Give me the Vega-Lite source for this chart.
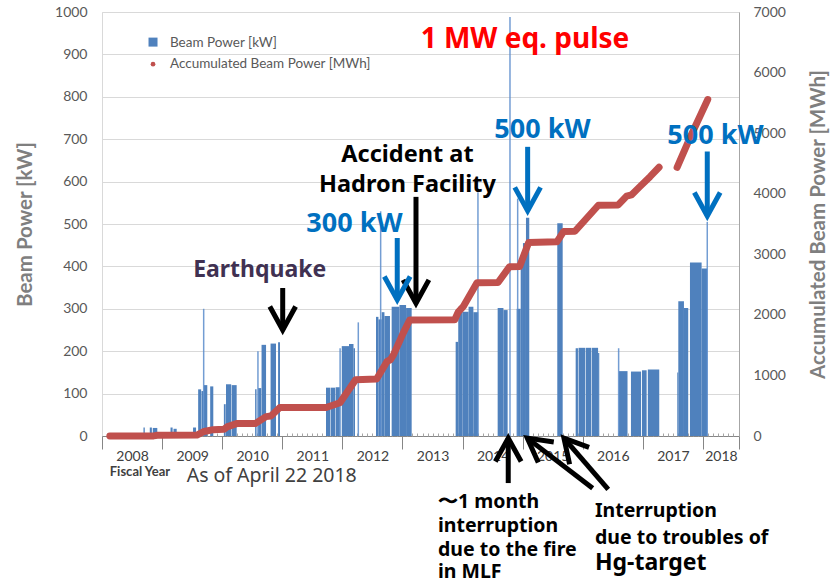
{
  "$schema": "https://vega.github.io/schema/vega-lite/v6.json",
  "width": 637,
  "height": 424,
  "autosize": {"type": "none"},
  "padding": {"left": 102, "top": 12, "right": 92, "bottom": 148},
  "background": "white",
  "config": {"view": {"stroke": "#d9d9d9"}, "font": "Lato"},
  "datasets": {
    "bars": [
      {"start":2008.690,"end":2008.712,"kW":20},
      {"start":2008.795,"end":2008.830,"kW":20},
      {"start":2008.845,"end":2008.920,"kW":19},
      {"start":2009.140,"end":2009.175,"kW":20},
      {"start":2009.190,"end":2009.243,"kW":17},
      {"start":2009.515,"end":2009.565,"kW":20},
      {"start":2009.600,"end":2009.650,"kW":110},
      {"start":2009.655,"end":2009.688,"kW":106},
      {"start":2009.697,"end":2009.752,"kW":120},
      {"start":2009.800,"end":2009.852,"kW":117},
      {"start":2010.028,"end":2010.058,"kW":75},
      {"start":2010.063,"end":2010.150,"kW":122},
      {"start":2010.158,"end":2010.241,"kW":120},
      {"start":2010.548,"end":2010.572,"kW":110},
      {"start":2010.598,"end":2010.650,"kW":113},
      {"start":2010.655,"end":2010.730,"kW":215},
      {"start":2010.805,"end":2010.895,"kW":218},
      {"start":2010.930,"end":2010.962,"kW":221},
      {"start":2011.727,"end":2011.800,"kW":114},
      {"start":2011.808,"end":2011.880,"kW":114},
      {"start":2011.888,"end":2011.958,"kW":115},
      {"start":2011.990,"end":2012.110,"kW":212},
      {"start":2012.110,"end":2012.185,"kW":217},
      {"start":2012.185,"end":2012.210,"kW":207},
      {"start":2012.559,"end":2012.600,"kW":281},
      {"start":2012.600,"end":2012.654,"kW":275},
      {"start":2012.654,"end":2012.700,"kW":292},
      {"start":2012.700,"end":2012.792,"kW":283},
      {"start":2012.820,"end":2012.950,"kW":305},
      {"start":2012.950,"end":2013.060,"kW":309},
      {"start":2013.060,"end":2013.153,"kW":302},
      {"start":2013.885,"end":2013.928,"kW":222},
      {"start":2013.928,"end":2014.000,"kW":305},
      {"start":2014.000,"end":2014.100,"kW":293},
      {"start":2014.100,"end":2014.180,"kW":305},
      {"start":2014.180,"end":2014.261,"kW":292},
      {"start":2014.584,"end":2014.680,"kW":302},
      {"start":2014.680,"end":2014.750,"kW":297},
      {"start":2014.900,"end":2014.967,"kW":300},
      {"start":2014.967,"end":2015.005,"kW":420},
      {"start":2015.005,"end":2015.055,"kW":455},
      {"start":2015.055,"end":2015.110,"kW":515},
      {"start":2015.576,"end":2015.666,"kW":502},
      {"start":2015.882,"end":2015.920,"kW":207},
      {"start":2015.930,"end":2016.043,"kW":208},
      {"start":2016.053,"end":2016.143,"kW":208},
      {"start":2016.153,"end":2016.255,"kW":208},
      {"start":2016.255,"end":2016.275,"kW":196},
      {"start":2016.602,"end":2016.745,"kW":153},
      {"start":2016.802,"end":2016.970,"kW":152},
      {"start":2016.985,"end":2017.063,"kW":155},
      {"start":2017.083,"end":2017.273,"kW":157},
      {"start":2017.573,"end":2017.590,"kW":150},
      {"start":2017.590,"end":2017.684,"kW":318},
      {"start":2017.684,"end":2017.755,"kW":302},
      {"start":2017.784,"end":2017.978,"kW":409},
      {"start":2017.978,"end":2018.070,"kW":395}
    ],
    "spikes": [
      {"t":2009.692,"kW":300},
      {"t":2010.595,"kW":200},
      {"t":2011.962,"kW":207},
      {"t":2012.265,"kW":268},
      {"t":2012.637,"kW":530},
      {"t":2014.256,"kW":575},
      {"t":2014.789,"kW":988},
      {"t":2014.917,"kW":560},
      {"t":2016.597,"kW":207},
      {"t":2018.072,"kW":505}
    ],
    "acc": [
      {"t":2008.13,"MWh":0,"seg":1},
      {"t":2008.86,"MWh":2,"seg":1},
      {"t":2008.92,"MWh":12,"seg":1},
      {"t":2009.58,"MWh":16,"seg":1},
      {"t":2009.70,"MWh":75,"seg":1},
      {"t":2009.85,"MWh":105,"seg":1},
      {"t":2010.03,"MWh":110,"seg":1},
      {"t":2010.08,"MWh":150,"seg":1},
      {"t":2010.24,"MWh":205,"seg":1},
      {"t":2010.55,"MWh":205,"seg":1},
      {"t":2010.73,"MWh":320,"seg":1},
      {"t":2010.81,"MWh":330,"seg":1},
      {"t":2010.96,"MWh":470,"seg":1},
      {"t":2011.73,"MWh":470,"seg":1},
      {"t":2011.96,"MWh":550,"seg":1},
      {"t":2012.22,"MWh":930,"seg":1},
      {"t":2012.57,"MWh":940,"seg":1},
      {"t":2012.74,"MWh":1227,"seg":1},
      {"t":2012.80,"MWh":1260,"seg":1},
      {"t":2012.85,"MWh":1340,"seg":1},
      {"t":2013.01,"MWh":1695,"seg":1},
      {"t":2013.12,"MWh":1915,"seg":1},
      {"t":2013.87,"MWh":1920,"seg":1},
      {"t":2013.93,"MWh":2050,"seg":1},
      {"t":2014.01,"MWh":2135,"seg":1},
      {"t":2014.24,"MWh":2530,"seg":1},
      {"t":2014.59,"MWh":2535,"seg":1},
      {"t":2014.78,"MWh":2795,"seg":1},
      {"t":2014.95,"MWh":2800,"seg":1},
      {"t":2015.10,"MWh":3195,"seg":1},
      {"t":2015.57,"MWh":3205,"seg":1},
      {"t":2015.68,"MWh":3375,"seg":1},
      {"t":2015.87,"MWh":3380,"seg":1},
      {"t":2016.26,"MWh":3810,"seg":1},
      {"t":2016.59,"MWh":3815,"seg":1},
      {"t":2016.73,"MWh":3960,"seg":1},
      {"t":2016.81,"MWh":3980,"seg":1},
      {"t":2016.95,"MWh":4117,"seg":1},
      {"t":2017.12,"MWh":4282,"seg":1},
      {"t":2017.27,"MWh":4436,"seg":1},
      {"t":2017.57,"MWh":4436,"seg":2},
      {"t":2017.78,"MWh":4915,"seg":2},
      {"t":2018.08,"MWh":5555,"seg":2}
    ]
  },
  "layer": [
    {
      "data": {"name": "bars"},
      "mark": {"type": "rect", "color": "#4f81bd"},
      "encoding": {
        "x": {"field": "start", "type": "quantitative",
          "scale": {"domain": [2008, 2018.6], "nice": false, "zero": false}, "axis": null},
        "x2": {"field": "end"},
        "y": {"field": "kW", "type": "quantitative",
          "scale": {"domain": [0, 1000], "nice": false, "zero": true},
          "axis": {"orient": "left", "title": "Beam Power [kW]", "values": [0,100,200,300,400,500,600,700,800,900,1000],
            "format": "d",
            "grid": true, "gridColor": "#d9d9d9", "ticks": false, "domain": false,
            "labelColor": "#595959", "labelFontSize": 14, "labelFont": "Lato", "labelPadding": 15,
            "titleFont": "Lato", "titleFontSize": 20.5, "titleFontWeight": "bold", "titleColor": "#7f7f7f", "titlePadding": 19}},
        "y2": {"datum": 0}
      }
    },
    {
      "data": {"name": "spikes"},
      "mark": {"type": "rule", "color": "#5a8ccb", "strokeWidth": 1.5, "opacity": 0.85},
      "encoding": {
        "x": {"field": "t", "type": "quantitative", "scale": {"domain": [2008, 2018.6], "nice": false, "zero": false},
          "axis": {"orient": "bottom", "title": null, "values": [2008.5,2009.5,2010.5,2011.5,2012.5,2013.5,2014.5,2015.5,2016.5,2017.5,2018.3],
            "labelExpr": "format(floor(datum.value), 'd')",
            "ticks": false, "tickSize": 0, "domain": false, "grid": false,
            "labelFlush": false, "labelOverlap": false,
            "labelColor": "#404040", "labelFontSize": 14, "labelFont": "Lato", "labelPadding": 13}},
        "y": {"field": "kW", "type": "quantitative", "scale": {"domain": [0, 1000], "nice": false, "zero": true}, "axis": null},
        "y2": {"datum": 0}
      }
    },
    {
      "data": {"name": "acc"},
      "mark": {"type": "line", "color": "#c0504d", "strokeWidth": 7, "strokeCap": "round", "strokeJoin": "round"},
      "encoding": {
        "x": {"field": "t", "type": "quantitative", "scale": {"domain": [2008, 2018.6], "nice": false, "zero": false},
          "axis": {"orient": "bottom", "title": null, "values": [2008,2009,2010,2011,2012,2013,2014,2015,2016,2017,2018,2018.6],
            "labels": false, "grid": false, "domain": true,
            "tickSize": 13, "tickColor": "#868686", "domainColor": "#868686"}},
        "y": {"field": "MWh", "type": "quantitative",
          "scale": {"domain": [0, 7000], "nice": false, "zero": true},
          "axis": {"orient": "right", "title": "Accumulated Beam Power [MWh]", "values": [0,1000,2000,3000,4000,5000,6000,7000],
            "format": "d",
            "grid": false, "ticks": false, "domain": true, "domainColor": "#a6a6a6",
            "labelColor": "#595959", "labelFontSize": 14, "labelFont": "Lato", "labelPadding": 14,
            "titleFont": "Lato", "titleFontSize": 20.5, "titleFontWeight": "bold", "titleColor": "#7f7f7f",
            "titleAngle": -90, "titlePadding": 43}},
        "detail": {"field": "seg", "type": "nominal"}
      }
    },
    {
      "data": {"values": [
        {"x":2011.007,"y":349,"x2":2011.007,"y2":250},
        {"x":2013.225,"y":564,"x2":2013.225,"y2":313},
        {"x":2014.760,"y":-111,"x2":2014.760,"y2":-5},
        {"x":2016.165,"y":-123,"x2":2015.077,"y2":-5},
        {"x":2016.424,"y":-126,"x2":2015.687,"y2":-5}
      ]},
      "mark": {"type": "rule", "color": "black", "strokeWidth": 5},
      "encoding": {
        "x": {"field": "x", "type": "quantitative", "scale": {"domain": [2008, 2018.6], "nice": false, "zero": false}, "axis": null},
        "y": {"field": "y", "type": "quantitative", "scale": {"domain": [0, 1000], "nice": false, "zero": false}, "axis": null},
        "x2": {"field": "x2"},
        "y2": {"field": "y2"}
      }
    },
    {
      "data": {"values": [
        {"x":2011.007,"y":250,"dir":0},
        {"x":2013.225,"y":313,"dir":0},
        {"x":2014.760,"y":-5,"dir":180},
        {"x":2015.077,"y":-5,"dir":127},
        {"x":2015.687,"y":-5,"dir":139}
      ]},
      "mark": {"type": "point", "shape": "M-0.55,-1L0,0L0.55,-1", "filled": false, "size": 2200, "strokeWidth": 5, "color": "black", "opacity": 1, "strokeJoin": "miter"},
      "encoding": {
        "x": {"field": "x", "type": "quantitative", "scale": {"domain": [2008, 2018.6], "nice": false, "zero": false},
          "axis": {"orient": "bottom", "title": null, "labels": false, "domain": false, "grid": false,
            "tickSize": -3, "tickColor": "#a6a6a6", "tickWidth": 1,
            "values": [2008.0833,2008.1667,2008.25,2008.3333,2008.4167,2008.5,2008.5833,2008.6667,2008.75,2008.8333,2008.9167,
              2009.0833,2009.1667,2009.25,2009.3333,2009.4167,2009.5,2009.5833,2009.6667,2009.75,2009.8333,2009.9167,
              2010.0833,2010.1667,2010.25,2010.3333,2010.4167,2010.5,2010.5833,2010.6667,2010.75,2010.8333,2010.9167,
              2011.0833,2011.1667,2011.25,2011.3333,2011.4167,2011.5,2011.5833,2011.6667,2011.75,2011.8333,2011.9167,
              2012.0833,2012.1667,2012.25,2012.3333,2012.4167,2012.5,2012.5833,2012.6667,2012.75,2012.8333,2012.9167,
              2013.0833,2013.1667,2013.25,2013.3333,2013.4167,2013.5,2013.5833,2013.6667,2013.75,2013.8333,2013.9167,
              2014.0833,2014.1667,2014.25,2014.3333,2014.4167,2014.5,2014.5833,2014.6667,2014.75,2014.8333,2014.9167,
              2015.0833,2015.1667,2015.25,2015.3333,2015.4167,2015.5,2015.5833,2015.6667,2015.75,2015.8333,2015.9167,
              2016.0833,2016.1667,2016.25,2016.3333,2016.4167,2016.5,2016.5833,2016.6667,2016.75,2016.8333,2016.9167,
              2017.0833,2017.1667,2017.25,2017.3333,2017.4167,2017.5,2017.5833,2017.6667,2017.75,2017.8333,2017.9167,
              2018.0833,2018.1667,2018.25,2018.3333,2018.4167,2018.5]}},
        "y": {"field": "y", "type": "quantitative", "scale": {"domain": [0, 1000], "nice": false, "zero": false}, "axis": null},
        "angle": {"field": "dir", "type": "quantitative", "scale": null}
      }
    },
    {
      "data": {"values": [
        {"x":2012.913,"y":467,"x2":2012.913,"y2":321},
        {"x":2015.083,"y":682,"x2":2015.083,"y2":531},
        {"x":2018.072,"y":671,"x2":2018.072,"y2":519}
      ]},
      "mark": {"type": "rule", "color": "#0070c0", "strokeWidth": 5},
      "encoding": {
        "x": {"field": "x", "type": "quantitative", "scale": {"domain": [2008, 2018.6], "nice": false, "zero": false}, "axis": null},
        "y": {"field": "y", "type": "quantitative", "scale": {"domain": [0, 1000], "nice": false, "zero": false}, "axis": null},
        "x2": {"field": "x2"},
        "y2": {"field": "y2"}
      }
    },
    {
      "data": {"values": [
        {"x":2012.913,"y":321},
        {"x":2015.083,"y":531},
        {"x":2018.072,"y":519}
      ]},
      "mark": {"type": "point", "shape": "M-0.55,-1L0,0L0.55,-1", "filled": false, "size": 2200, "strokeWidth": 5, "color": "#0070c0", "opacity": 1, "strokeJoin": "miter"},
      "encoding": {
        "x": {"field": "x", "type": "quantitative", "scale": {"domain": [2008, 2018.6], "nice": false, "zero": false}, "axis": null},
        "y": {"field": "y", "type": "quantitative", "scale": {"domain": [0, 1000], "nice": false, "zero": false}, "axis": null}
      }
    },
    {
      "data": {"values": [{"x":2015.038,"y":934,"label":"1 MW eq. pulse"}]},
      "mark": {"type": "text", "font": "Noto Sans", "fontWeight": "bold", "fontSize": 28, "color": "#ff0000", "align": "center", "baseline": "middle"},
      "encoding": {
        "x": {"field": "x", "type": "quantitative", "scale": {"domain": [2008, 2018.6], "nice": false, "zero": false}, "axis": null},
        "y": {"field": "y", "type": "quantitative", "scale": {"domain": [0, 1000], "nice": false, "zero": false}, "axis": null},
        "text": {"field": "label"}
      }
    },
    {
      "data": {"values": [
        {"x":2015.329,"y":722,"label":"500 kW"},
        {"x":2018.208,"y":708,"label":"500 kW"},
        {"x":2012.201,"y":500,"label":"300 kW"}
      ]},
      "mark": {"type": "text", "font": "Noto Sans", "fontWeight": "bold", "fontSize": 27, "color": "#0070c0", "align": "center", "baseline": "middle"},
      "encoding": {
        "x": {"field": "x", "type": "quantitative", "scale": {"domain": [2008, 2018.6], "nice": false, "zero": false}, "axis": null},
        "y": {"field": "y", "type": "quantitative", "scale": {"domain": [0, 1000], "nice": false, "zero": false}, "axis": null},
        "text": {"field": "label"}
      }
    },
    {
      "data": {"values": [
        {"x":2013.083,"y":662,"label":"Accident  at"},
        {"x":2013.083,"y":591,"label":"Hadron Facility"}
      ]},
      "mark": {"type": "text", "font": "Noto Sans", "fontWeight": "bold", "fontSize": 23.5, "color": "#000000", "align": "center", "baseline": "middle"},
      "encoding": {
        "x": {"field": "x", "type": "quantitative", "scale": {"domain": [2008, 2018.6], "nice": false, "zero": false}, "axis": null},
        "y": {"field": "y", "type": "quantitative", "scale": {"domain": [0, 1000], "nice": false, "zero": false}, "axis": null},
        "text": {"field": "label"}
      }
    },
    {
      "data": {"values": [{"x":2010.625,"y":391,"label":"Earthquake"}]},
      "mark": {"type": "text", "font": "Noto Sans", "fontWeight": "bold", "fontSize": 23, "color": "#403152", "align": "center", "baseline": "middle"},
      "encoding": {
        "x": {"field": "x", "type": "quantitative", "scale": {"domain": [2008, 2018.6], "nice": false, "zero": false}, "axis": null},
        "y": {"field": "y", "type": "quantitative", "scale": {"domain": [0, 1000], "nice": false, "zero": false}, "axis": null},
        "text": {"field": "label"}
      }
    },
    {
      "data": {"values": [
        {"x":2013.591,"y":-156,"label":"〜1 month"},
        {"x":2013.591,"y":-213,"label":"interruption"},
        {"x":2013.591,"y":-269,"label":"due to the fire"},
        {"x":2013.591,"y":-321,"label":"in MLF"},
        {"x":2016.203,"y":-177,"label":"Interruption"},
        {"x":2016.203,"y":-241,"label":"due to troubles of"}
      ]},
      "mark": {"type": "text", "font": "Noto Sans", "fontWeight": "bold", "fontSize": 19.5, "color": "#000000", "align": "left", "baseline": "middle"},
      "encoding": {
        "x": {"field": "x", "type": "quantitative", "scale": {"domain": [2008, 2018.6], "nice": false, "zero": false}, "axis": null},
        "y": {"field": "y", "type": "quantitative", "scale": {"domain": [0, 1000], "nice": false, "zero": false}, "axis": null},
        "text": {"field": "label"}
      }
    },
    {
      "data": {"values": [{"x":2016.203,"y":-300,"label":"Hg-target"}]},
      "mark": {"type": "text", "font": "Noto Sans", "fontWeight": "bold", "fontSize": 23, "color": "#000000", "align": "left", "baseline": "middle"},
      "encoding": {
        "x": {"field": "x", "type": "quantitative", "scale": {"domain": [2008, 2018.6], "nice": false, "zero": false}, "axis": null},
        "y": {"field": "y", "type": "quantitative", "scale": {"domain": [0, 1000], "nice": false, "zero": false}, "axis": null},
        "text": {"field": "label"}
      }
    },
    {
      "data": {"values": [{"x":2008.632,"y":-85,"label":"Fiscal Year"}]},
      "mark": {"type": "text", "font": "Lato", "fontWeight": "bold", "fontSize": 13, "color": "#404040", "align": "center", "baseline": "middle"},
      "encoding": {
        "x": {"field": "x", "type": "quantitative", "scale": {"domain": [2008, 2018.6], "nice": false, "zero": false}, "axis": null},
        "y": {"field": "y", "type": "quantitative", "scale": {"domain": [0, 1000], "nice": false, "zero": false}, "axis": null},
        "text": {"field": "label"}
      }
    },
    {
      "data": {"values": [{"x":2009.409,"y":-94,"label":"As of April 22 2018"}]},
      "mark": {"type": "text", "font": "Noto Sans", "fontSize": 19.5, "color": "#404040", "align": "left", "baseline": "middle"},
      "encoding": {
        "x": {"field": "x", "type": "quantitative", "scale": {"domain": [2008, 2018.6], "nice": false, "zero": false}, "axis": null},
        "y": {"field": "y", "type": "quantitative", "scale": {"domain": [0, 1000], "nice": false, "zero": false}, "axis": null},
        "text": {"field": "label"}
      }
    },
    {
      "data": {"values": [{"x":2008.849,"y":929}]},
      "mark": {"type": "square", "color": "#4f81bd", "size": 81, "opacity": 1},
      "encoding": {
        "x": {"field": "x", "type": "quantitative", "scale": {"domain": [2008, 2018.6], "nice": false, "zero": false}, "axis": null},
        "y": {"field": "y", "type": "quantitative", "scale": {"domain": [0, 1000], "nice": false, "zero": false}, "axis": null}
      }
    },
    {
      "data": {"values": [{"x":2008.849,"y":877}]},
      "mark": {"type": "circle", "color": "#c0504d", "size": 22, "opacity": 1},
      "encoding": {
        "x": {"field": "x", "type": "quantitative", "scale": {"domain": [2008, 2018.6], "nice": false, "zero": false}, "axis": null},
        "y": {"field": "y", "type": "quantitative", "scale": {"domain": [0, 1000], "nice": false, "zero": false}, "axis": null}
      }
    },
    {
      "data": {"values": [
        {"x":2009.131,"y":928,"label":"Beam Power [kW]"},
        {"x":2009.131,"y":878,"label":"Accumulated Beam Power [MWh]"}
      ]},
      "mark": {"type": "text", "font": "Lato", "fontSize": 13.5, "color": "#595959", "align": "left", "baseline": "middle"},
      "encoding": {
        "x": {"field": "x", "type": "quantitative", "scale": {"domain": [2008, 2018.6], "nice": false, "zero": false}, "axis": null},
        "y": {"field": "y", "type": "quantitative", "scale": {"domain": [0, 1000], "nice": false, "zero": false}, "axis": null},
        "text": {"field": "label"}
      }
    }
  ],
  "resolve": {"scale": {"y": "independent"}, "axis": {"x": "independent"}}
}
